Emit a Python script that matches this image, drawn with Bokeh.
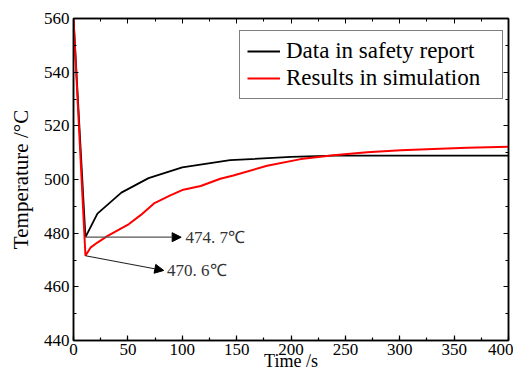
from bokeh.plotting import figure
from bokeh.models import (Range1d, LinearAxis, SingleIntervalTicker, Legend, LegendItem,
                          Arrow, NormalHead, Label, CustomJSTickFormatter)
from bokeh.embed import file_html
from bokeh.resources import INLINE

# ---- data ----
time_report = [0, 11, 22, 44, 69, 100, 144, 200, 240, 300, 400]
temp_report = [560, 478.5, 487.3, 495.1, 500.5, 504.5, 507.2, 508.4, 508.9, 508.9, 508.9]

time_sim = [0, 11, 15.6, 22, 31, 51, 62, 74, 89, 101, 117, 135, 147, 178, 209, 239, 270, 301, 331, 362, 400]
temp_sim = [560, 471.6, 474.6, 476.5, 478.9, 483.4, 486.8, 491.1, 494.1, 496.2, 497.6, 500.3,
            501.5, 505.1, 507.6, 509.0, 510.2, 510.9, 511.4, 511.8, 512.2]

legend_labels = ["Data in safety report", "Results in simulation"]
annot_texts = ["474. 7\u2103", "470. 6\u2103"]

SERIF = "Liberation Serif"

p = figure(width=513, height=376, output_backend="svg", toolbar_location=None,
           x_range=Range1d(0, 400), y_range=Range1d(440, 560),
           min_border_left=73, min_border_top=18, min_border_right=5, min_border_bottom=36)
p.background_fill_color = "white"
p.border_fill_color = "white"
p.outline_line_color = "black"
p.outline_line_width = 1.5
p.grid.visible = False

for ax in (p.xaxis[0], p.yaxis[0]):
    ax.axis_line_width = 1.5
    ax.major_tick_in = 5
    ax.major_tick_out = 0
    ax.minor_tick_in = 3
    ax.minor_tick_out = 0
    ax.major_tick_line_width = 1.2
    ax.minor_tick_line_width = 1.2
    ax.major_label_text_font = SERIF
    ax.major_label_text_font_size = "17px"
    ax.major_label_text_color = "black"
    ax.axis_label_text_font = SERIF
    ax.axis_label_text_font_style = "normal"
    ax.axis_label_text_color = "black"

p.xaxis[0].ticker = SingleIntervalTicker(interval=50, num_minor_ticks=2)
p.yaxis[0].ticker = SingleIntervalTicker(interval=20, num_minor_ticks=2)
p.xaxis[0].axis_label = "Time /s"
p.xaxis[0].axis_label_text_font_size = "18px"
p.xaxis[0].major_label_standoff = 3
p.xaxis[0].axis_label_standoff = -7
p.yaxis[0].axis_label = "Temperature /\u00b0C"
p.yaxis[0].axis_label_text_font_size = "21px"
p.yaxis[0].major_label_standoff = 4
p.yaxis[0].axis_label_standoff = 8

# mirror axes (ticks only, no labels)
empty = CustomJSTickFormatter(code="return ''")
top = LinearAxis(ticker=SingleIntervalTicker(interval=50, num_minor_ticks=2), formatter=empty)
right = LinearAxis(ticker=SingleIntervalTicker(interval=20, num_minor_ticks=2), formatter=empty)
for ax in (top, right):
    ax.major_label_standoff = 0
    ax.axis_line_width = 1.5
    ax.major_tick_in = 5
    ax.major_tick_out = 0
    ax.minor_tick_in = 3
    ax.minor_tick_out = 0
p.add_layout(top, "above")
p.add_layout(right, "right")

r1 = p.line(time_report, temp_report, line_color="black", line_width=1.8)
r2 = p.line(time_sim, temp_sim, line_color="#ff0000", line_width=2)

legend = Legend(items=[LegendItem(label=legend_labels[0], renderers=[r1]),
                       LegendItem(label=legend_labels[1], renderers=[r2])],
                location=(166, 241))
legend.label_text_font = SERIF
legend.label_text_font_size = "23px"
legend.label_text_color = "black"
legend.label_height = 24
legend.glyph_height = 24
legend.glyph_width = 33
legend.label_width = 209
legend.label_standoff = 6
legend.spacing = 1
legend.padding = 7
legend.margin = 0
legend.border_line_color = "black"
legend.border_line_width = 1
legend.background_fill_alpha = 1
p.add_layout(legend, "center")

# annotations for minimum temperatures
p.add_layout(Arrow(end=NormalHead(size=9, fill_color="black", line_color="black"),
                   x_start=time_report[1], y_start=temp_report[1], x_end=99, y_end=temp_report[1],
                   line_color="#555555", line_width=1.3))
p.add_layout(Arrow(end=NormalHead(size=9, fill_color="black", line_color="black"),
                   x_start=time_sim[1], y_start=temp_sim[1], x_end=83, y_end=466.1,
                   line_color="#222222", line_width=1.1))
p.add_layout(Label(x=103, y=temp_report[1], text=annot_texts[0], text_font=SERIF,
                   text_font_size="17px", text_color="#333333", text_baseline="middle"))
p.add_layout(Label(x=86, y=466.1, text=annot_texts[1], text_font=SERIF,
                   text_font_size="17px", text_color="#333333", text_baseline="middle"))

open("out.html", "w").write(file_html(p, INLINE))
